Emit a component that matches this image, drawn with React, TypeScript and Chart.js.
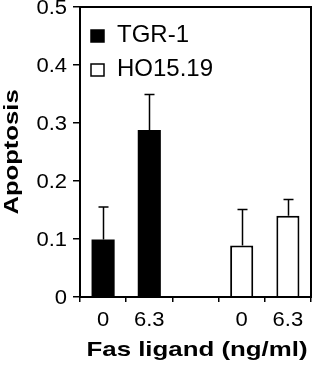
import React, { useEffect, useRef } from "react";
import { Chart, registerables } from "chart.js";

Chart.register(...registerables);

const categories = ["0", "6.3", "", "0", "6.3"];
const seriesNames = ["TGR-1", "HO15.19"];
const tgrValues = [0.099, 0.288, null, null, null];
const tgrErrors = [0.056, 0.061, null, null, null];
const hoValues = [null, null, null, 0.089, 0.14];
const hoErrors = [null, null, null, 0.062, 0.028];
const yTickValues = [0, 0.1, 0.2, 0.3, 0.4, 0.5];
const xTitle = "Fas ligand (ng/ml)";
const yTitle = "Apoptosis";

const FONT = '"Liberation Sans", Arial, Helvetica, sans-serif';

const errorBarPlugin = {
  id: "errorBars",
  afterDatasetsDraw(chart: any) {
    const ctx = chart.ctx;
    const yScale = chart.scales.y;
    chart.data.datasets.forEach((ds: any, di: number) => {
      const meta = chart.getDatasetMeta(di);
      const errs = ds.errors || [];
      meta.data.forEach((bar: any, i: number) => {
        const v = ds.data[i];
        const e = errs[i];
        if (v == null || e == null) return;
        const top = yScale.getPixelForValue(v + e);
        const x = Math.round(bar.x) + 0.5;
        ctx.save();
        ctx.strokeStyle = "#000";
        ctx.lineWidth = 1.5;
        ctx.beginPath();
        ctx.moveTo(x, bar.y);
        ctx.lineTo(x, top);
        ctx.moveTo(x - 5, top);
        ctx.lineTo(x + 5, top);
        ctx.stroke();
        ctx.restore();
      });
    });
  },
};

const textPlugin = {
  id: "texts",
  afterDraw(chart: any) {
    const ctx = chart.ctx;
    const area = chart.chartArea;
    const xScale = chart.scales.x;
    const yScale = chart.scales.y;
    ctx.save();
    // frame
    ctx.strokeStyle = "#000";
    ctx.lineWidth = 2;
    ctx.strokeRect(area.left, area.top, area.right - area.left, area.bottom - area.top);

    ctx.fillStyle = "#000";
    // y tick labels
    ctx.font = `20px ${FONT}`;
    yScale.ticks.forEach((t: any) => {
      const v = t.value;
      const label = v === 0 ? "0" : v.toFixed(1);
      const y = yScale.getPixelForValue(v);
      ctx.save();
      ctx.translate(area.left - 13, y + 1);
      ctx.scale(1.1, 1);
      ctx.textAlign = "right";
      ctx.textBaseline = "middle";
      ctx.fillText(label, 0, 0);
      ctx.restore();
    });
    // x tick labels
    categories.forEach((lab, i) => {
      if (!lab) return;
      const x = xScale.getPixelForTick(i);
      ctx.save();
      ctx.translate(x, area.bottom + 29);
      ctx.scale(1.1, 1);
      ctx.textAlign = "center";
      ctx.textBaseline = "alphabetic";
      ctx.fillText(lab, 0, 0);
      ctx.restore();
    });
    // titles
    ctx.font = `bold 21px ${FONT}`;
    ctx.save();
    ctx.translate(197, 356);
    ctx.scale(1.23, 1);
    ctx.textAlign = "center";
    ctx.textBaseline = "alphabetic";
    ctx.fillText(xTitle, 0, 0);
    ctx.restore();

    ctx.save();
    ctx.translate(18, 152);
    ctx.rotate(-Math.PI / 2);
    ctx.scale(1.22, 1);
    ctx.textAlign = "center";
    ctx.textBaseline = "alphabetic";
    ctx.fillText(yTitle, 0, 0);
    ctx.restore();

    // legend
    ctx.font = `24px ${FONT}`;
    chart.data.datasets.forEach((ds: any, di: number) => {
      const baseY = area.top + 35 + di * 34;
      const bx = area.left + 11;
      ctx.fillStyle = ds.backgroundColor;
      ctx.fillRect(bx, baseY - 12, 13, 12);
      ctx.strokeStyle = "#000";
      ctx.lineWidth = 1.5;
      ctx.strokeRect(bx, baseY - 12, 13, 12);
      ctx.fillStyle = "#000";
      ctx.textAlign = "left";
      ctx.textBaseline = "alphabetic";
      ctx.fillText(ds.label, area.left + 37, baseY);
    });
    ctx.restore();
  },
};

export default function App() {
  const ref = useRef<HTMLCanvasElement | null>(null);
  useEffect(() => {
    document.body.style.margin = "0";
    if (!ref.current) return;
    const chart = new Chart(ref.current, {
      type: "bar",
      data: {
        labels: categories,
        datasets: [
          {
            label: seriesNames[0],
            data: tgrValues,
            errors: tgrErrors,
            backgroundColor: "#000",
            borderColor: "#000",
            borderWidth: 0,
          } as any,
          {
            label: seriesNames[1],
            data: hoValues,
            errors: hoErrors,
            backgroundColor: "#fff",
            borderColor: "#000",
            borderWidth: 2,
          } as any,
        ],
      },
      options: {
        responsive: false,
        animation: false,
        devicePixelRatio: 1,
        layout: { padding: { top: 7, right: 2, left: 0, bottom: 0 } },
        datasets: { bar: { barPercentage: 0.5, categoryPercentage: 1 } },
        plugins: { legend: { display: false }, tooltip: { enabled: false } },
        scales: {
          x: {
            stacked: true,
            ticks: { display: false },
            grid: {
              drawOnChartArea: false,
              drawTicks: true,
              tickLength: 5,
              color: "#000",
              lineWidth: 1.5,
              offset: true,
            },
            border: { display: false },
            afterFit: (s: any) => {
              s.height = 68;
              s.paddingLeft = 0;
              s.paddingRight = 0;
            },
          },
          y: {
            min: 0,
            max: 0.5,
            afterBuildTicks: (s: any) => {
              s.ticks = yTickValues.map((v) => ({ value: v }));
            },
            ticks: { display: false },
            grid: {
              drawOnChartArea: false,
              drawTicks: true,
              tickLength: 7,
              color: "#000",
              lineWidth: 1.5,
            },
            border: { display: false },
            afterFit: (s: any) => {
              s.width = 80;
              s.paddingTop = 0;
              s.paddingBottom = 0;
            },
          },
        },
      },
      plugins: [errorBarPlugin, textPlugin],
    } as any);
    return () => chart.destroy();
  }, []);
  return (
    <div style={{ width: 313, height: 365 }}>
      <canvas ref={ref} width={313} height={365} />
    </div>
  );
}
